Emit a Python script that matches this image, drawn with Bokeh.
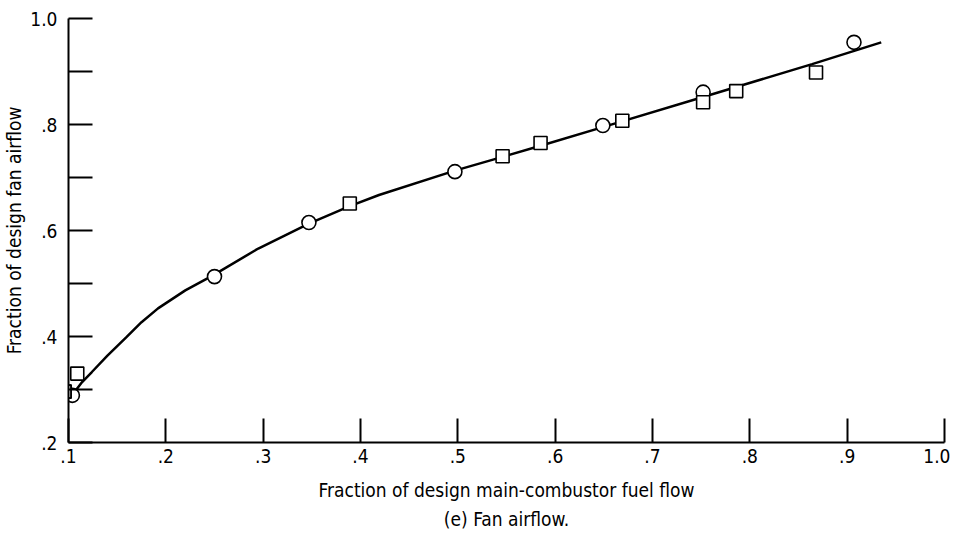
from bokeh.plotting import figure
from bokeh.models import FixedTicker, Title, BoxAnnotation
from bokeh.embed import file_html
from bokeh.resources import INLINE

# ---- data ----
circle_x = [0.104, 0.25, 0.347, 0.497, 0.649, 0.752, 0.907]
circle_y = [0.289, 0.513, 0.615, 0.711, 0.798, 0.861, 0.955]

square_x = [0.096, 0.109, 0.389, 0.546, 0.585, 0.669, 0.752, 0.786, 0.868]
square_y = [0.296, 0.330, 0.651, 0.740, 0.765, 0.807, 0.842, 0.863, 0.898]

curve_x = [0.104, 0.114, 0.124, 0.14, 0.159, 0.175, 0.192, 0.22, 0.248, 0.295,
           0.347, 0.389, 0.419, 0.497, 0.546, 0.585, 0.649, 0.752, 0.864, 0.935]
curve_y = [0.290, 0.314, 0.333, 0.364, 0.398, 0.427, 0.453, 0.487, 0.515, 0.566,
           0.613, 0.646, 0.667, 0.713, 0.739, 0.760, 0.795, 0.852, 0.914, 0.955]

x_ticks = [0.1, 0.2, 0.3, 0.4, 0.5, 0.6, 0.7, 0.8, 0.9, 1.0]
x_tick_labels = [".1", ".2", ".3", ".4", ".5", ".6", ".7", ".8", ".9", "1.0"]
y_ticks = [0.2, 0.3, 0.4, 0.5, 0.6, 0.7, 0.8, 0.9, 1.0]
y_tick_labels = [".2", "", ".4", "", ".6", "", ".8", "", "1.0"]

x_label = "Fraction of design main-combustor fuel flow"
y_label = "Fraction of design fan airflow"
caption = "(e) Fan airflow."

FONT = "DejaVu Sans Condensed"
X0, X1, Y0, Y1 = 0.1, 1.0, 0.2, 1.0
FW, FH = 876, 424
SQ = 13  # square marker size in px

p = figure(frame_width=FW, frame_height=FH,
           x_range=(X0, X1), y_range=(Y0, Y1),
           output_backend="svg", toolbar_location=None,
           min_border_left=63, min_border_right=6,
           min_border_top=18, min_border_bottom=85)

p.xgrid.visible = False
p.ygrid.visible = False
p.outline_line_color = None
p.background_fill_color = "white"
p.border_fill_color = "white"

for ax in (p.xaxis[0], p.yaxis[0]):
    ax.axis_line_width = 2
    ax.axis_line_color = "black"
    ax.major_tick_line_width = 2
    ax.major_tick_line_color = "black"
    ax.major_tick_in = 24
    ax.major_tick_out = 0
    ax.minor_tick_line_color = None
    ax.major_label_text_font = FONT
    ax.major_label_text_font_size = "19px"
    ax.major_label_text_color = "black"
    ax.axis_label_text_font = FONT
    ax.axis_label_text_font_size = "19px"
    ax.axis_label_text_font_style = "normal"
    ax.axis_label_text_color = "black"

p.xaxis.ticker = FixedTicker(ticks=x_ticks)
p.xaxis.major_label_overrides = dict(zip(x_ticks, x_tick_labels))
p.yaxis.ticker = FixedTicker(ticks=y_ticks)
p.yaxis.major_label_overrides = dict(zip(y_ticks, y_tick_labels))

p.xaxis.axis_label = x_label
p.yaxis.axis_label = y_label
p.xaxis.major_label_standoff = 6
p.yaxis.major_label_standoff = 11
p.xaxis.axis_label_standoff = 13
p.yaxis.axis_label_standoff = 2

p.add_layout(Title(text=caption, align="center", text_font=FONT,
                   text_font_size="19px", text_font_style="normal",
                   text_color="black", standoff=5), "below")

p.line(curve_x, curve_y, line_color="black", line_width=2.5)
p.scatter(circle_x, circle_y, marker="circle", size=14,
          fill_color="white", line_color="black", line_width=1.6)
p.scatter(square_x, square_y, marker="square", size=SQ,
          fill_color="white", line_color="black", line_width=1.6)

# squares that straddle the left edge of the frame: draw them as
# (unclipped) box annotations so that their outer half stays visible
hx = (SQ / 2) * (X1 - X0) / FW
hy = (SQ / 2) * (Y1 - Y0) / FH
for sx, sy in zip(square_x, square_y):
    if sx - hx < X0:
        p.add_layout(BoxAnnotation(left=sx - hx, right=sx + hx,
                                   bottom=sy - hy, top=sy + hy,
                                   fill_alpha=0, line_color="black",
                                   line_width=1.6, line_alpha=1))

open("out.html", "w").write(file_html(p, INLINE))
